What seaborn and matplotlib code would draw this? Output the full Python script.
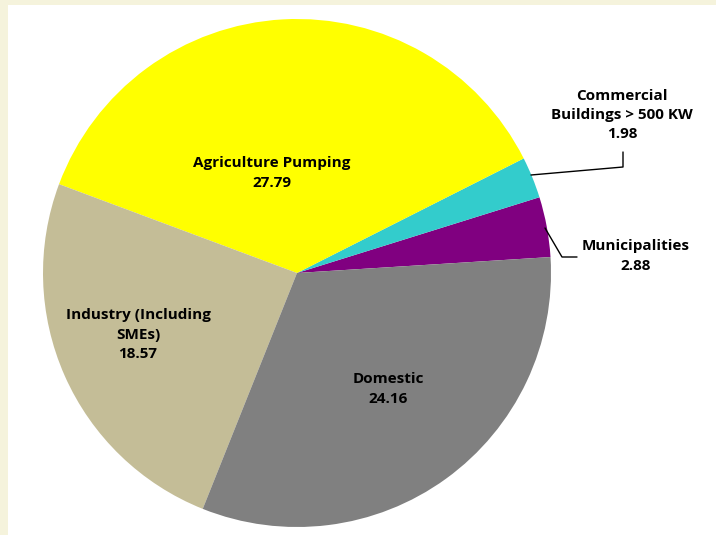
import matplotlib
matplotlib.use("Agg")
import matplotlib.pyplot as plt
import seaborn as sns
from matplotlib.patches import Rectangle

sns.set_theme(style="white")
plt.rcParams['font.family'] = ['Open Sans', 'DejaVu Sans']

categories = ["Municipalities", "Commercial\nBuildings > 500 KW", "Agriculture Pumping",
              "Industry (Including\nSMEs)", "Domestic"]
values = [2.88, 1.98, 27.79, 18.57, 24.16]
colors = ["#800080", "#33CCCC", "#FFFF00", "#C4BD97", "#808080"]

W, H = 716, 535
fig = plt.figure(figsize=(W / 100, H / 100), dpi=100)
fig.patch.set_facecolor("#F5F3DC")
bg = Rectangle((8 / W, 0), 1, 1 - 5 / H, transform=fig.transFigure,
               facecolor="white", edgecolor="none", zorder=-10)
fig.patches.append(bg)

ax = fig.add_axes([0, 0, 1, 1])
ax.set_zorder(5)
ax.set_facecolor("none")
cx, cy, r = 297, H - 273, 254
ax.pie(values, colors=colors, startangle=3.6, counterclock=True,
       center=(cx, cy), radius=r, wedgeprops=dict(linewidth=0, edgecolor="none"))
ax.set_xlim(0, W)
ax.set_ylim(0, H)
ax.set_aspect("equal")
ax.axis("off")

tk = dict(ha="center", va="center", fontsize=11, fontweight="bold", color="black",
          linespacing=1.5)

def Y(y):
    return H - y

# inside labels
ax.text(272, Y(173), f"{categories[2]}\n{values[2]:.2f}", **tk)
ax.text(138, Y(335), f"{categories[3]}\n{values[3]:.2f}", **tk)
ax.text(388, Y(389), f"{categories[4]}\n{values[4]:.2f}", **tk)
# outside labels
ax.text(622, Y(115), f"{categories[1]}\n{values[1]:.2f}", **tk)
ax.text(636, Y(256), f"{categories[0]}\n{values[0]:.2f}", **tk)

# leader lines
ax.plot([531, 623, 623], [Y(175), Y(167), Y(152)], color="black", lw=1)
ax.plot([545, 562, 577], [Y(228), Y(257), Y(257)], color="black", lw=1)

fig.savefig("out.png", dpi=100, facecolor=fig.get_facecolor())
